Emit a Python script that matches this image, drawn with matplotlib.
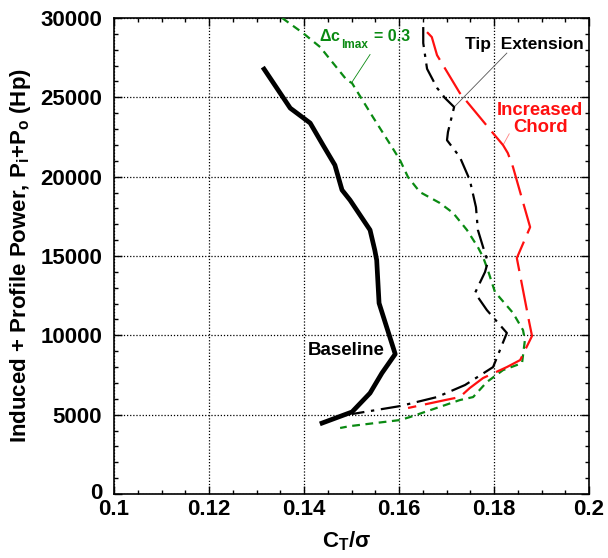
import matplotlib
matplotlib.use("Agg")
import matplotlib.pyplot as plt
from matplotlib.ticker import MultipleLocator
import matplotlib.transforms as mtrans

plt.rcParams['font.family'] = ['Liberation Sans', 'DejaVu Sans']
plt.rcParams['font.weight'] = 'bold'
plt.rcParams['mathtext.fontset'] = 'custom'
plt.rcParams['mathtext.rm'] = 'Liberation Sans:bold'
plt.rcParams['mathtext.it'] = 'Liberation Sans:bold'
plt.rcParams['mathtext.bf'] = 'Liberation Sans:bold'

baseline_x = [0.1316, 0.1371, 0.1413, 0.1440, 0.1465, 0.1480, 0.1497, 0.1539, 0.1549, 0.1553, 0.1558, 0.1592, 0.1564, 0.1539, 0.1501, 0.1438]
baseline_y = [26780, 24320, 23380, 21990, 20730, 19160, 18520, 16640, 15370, 14740, 12030, 8820, 7620, 6360, 5170, 4470]

tip_x = [0.1651, 0.1651, 0.1659, 0.1680, 0.1697, 0.1716, 0.1703, 0.1701, 0.1728, 0.1749, 0.1762, 0.1766, 0.1777, 0.1787, 0.1781, 0.1760, 0.1785, 0.1827, 0.1798, 0.1739, 0.1680, 0.1602, 0.1501]
tip_y = [29430, 28420, 26800, 25600, 24950, 24390, 22810, 22300, 21240, 19790, 18080, 16640, 15560, 14620, 13990, 12670, 11590, 10150, 8000, 6870, 6110, 5540, 5040]

chord_x = [0.1659, 0.1669, 0.1680, 0.1728, 0.1796, 0.1819, 0.1829, 0.1840, 0.1876, 0.1848, 0.1874, 0.1880, 0.1855, 0.1827, 0.1777, 0.1749, 0.1728, 0.1697, 0.1619]
chord_y = [29110, 28800, 27660, 25270, 22810, 21990, 21490, 20600, 16820, 14870, 10840, 9960, 8440, 8000, 7310, 6680, 6110, 5920, 5420]

dcl_x = [0.1354, 0.1398, 0.1434, 0.1490, 0.1501, 0.1545, 0.1585, 0.1602, 0.1619, 0.1644, 0.1686, 0.1714, 0.1743, 0.1766, 0.1777, 0.1787, 0.1802, 0.1840, 0.1861, 0.1865, 0.1859, 0.1819, 0.1785, 0.1756, 0.1728, 0.1623, 0.1602, 0.1497, 0.1476]
dcl_y = [30000, 29050, 28170, 26090, 25900, 23760, 21870, 21050, 19970, 19030, 18340, 17710, 16640, 15560, 14930, 14110, 12730, 11410, 10330, 9700, 8250, 7810, 7060, 6110, 5920, 4850, 4660, 4280, 4160]

xticks = [0.1, 0.12, 0.14, 0.16, 0.18, 0.2]
xtick_labels = ['0.1', '0.12', '0.14', '0.16', '0.18', '0.2']
yticks = [0, 5000, 10000, 15000, 20000, 25000, 30000]
ytick_labels = ['0', '5000', '10000', '15000', '20000', '25000', '30000']

fig = plt.figure(figsize=(6.08, 5.58), dpi=100)
ax = fig.add_axes([0.1875, 0.1147, 0.7813, 0.853])

green = '#0a8a12'
red = '#ff1010'
ax.plot(baseline_x, baseline_y, color='black', lw=3.4, solid_joinstyle='round', zorder=5)
ax.plot(tip_x, tip_y, color='black', lw=1.6, dashes=[9, 3, 1.5, 3], zorder=4)
ax.plot(chord_x, chord_y, color=red, lw=1.6, dashes=[14, 4], zorder=4)
ax.plot(dcl_x, dcl_y, color=green, lw=1.6, dashes=[3.5, 2.5], zorder=3)

ax.set_xlim(0.1, 0.2)
ax.set_ylim(0, 30000)
ax.set_xticks(xticks)
ax.set_xticklabels(xtick_labels)
ax.set_yticks(yticks)
ax.set_yticklabels(ytick_labels)
ax.xaxis.set_minor_locator(MultipleLocator(0.005))
ax.yaxis.set_minor_locator(MultipleLocator(1000))
ax.tick_params(which='both', direction='in', top=True, right=True, labelsize=16, width=1)
ax.tick_params(axis='y', which='major', pad=8.5)
ax.tick_params(which='major', length=6)
ax.tick_params(which='minor', length=3)
for lab in ax.get_xticklabels() + ax.get_yticklabels():
    lab.set_fontweight('bold')
ylabs = ax.get_yticklabels()
ylabs[0].set_transform(ylabs[0].get_transform() + mtrans.ScaledTranslation(0, 2.5 / 72, fig.dpi_scale_trans))
ax.grid(True, which='major', color='black', linestyle=(0, (1, 1.5)), lw=0.9)
for s in ax.spines.values():
    s.set_linewidth(1.2)

ax.set_xlabel(r'C$_\mathregular{T}$/$\sigma$', fontsize=16, fontweight='bold', labelpad=7)
ax.xaxis.label.set_x(0.489)
ax.set_ylabel(r'Induced + Profile Power, P$_\mathregular{i}$+P$_\mathregular{o}$ (Hp)', fontsize=16, fontweight='bold', labelpad=5)

ax.text(0.14316, 28550, r'$\Delta$c', fontsize=11.5, fontweight='bold', color=green, ha='left', va='baseline')
ax.text(0.14779, 28110, 'lmax', fontsize=8.5, fontweight='bold', color=green, ha='left', va='baseline')
ax.text(0.15474, 28550, '= 0.3', fontsize=11.5, fontweight='bold', color=green, ha='left', va='baseline')
ax.plot([0.1539, 0.1501], [27700, 25960], color=green, lw=0.6)

ax.text(0.1863, 28360, 'Tip  Extension', fontsize=12.5, fontweight='bold', color='black', ha='center', va='center')
ax.plot([0.1827, 0.1718], [27790, 24450], color='#555555', lw=0.6)

ax.text(0.1897, 23640, 'Increased\nChord', fontsize=13.3, fontweight='bold', color=red, ha='center', va='center', linespacing=0.95)
ax.plot([0.1832, 0.1819], [22700, 21990], color='#ff8080', lw=0.6)

ax.text(0.1489, 9070, 'Baseline', fontsize=13.5, fontweight='bold', color='black', ha='center', va='center')

fig.savefig('out.png', dpi=100)
